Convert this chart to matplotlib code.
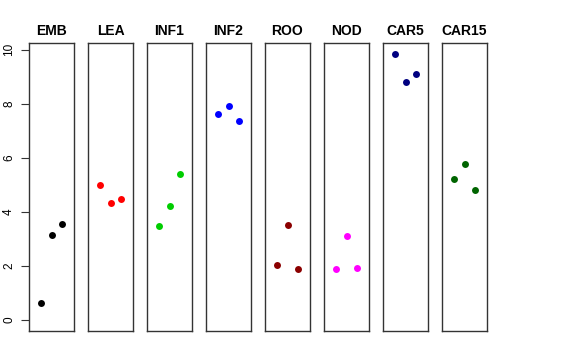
import matplotlib
matplotlib.use("Agg")
import matplotlib.pyplot as plt

plt.rcParams["font.family"] = ["Liberation Sans", "DejaVu Sans"]

# stage names, colours, values (3 replicates each)
stages = ["EMB", "LEA", "INF1", "INF2", "ROO", "NOD", "CAR5", "CAR15"]
colours = ["#000000", "#FF0000", "#00CD00", "#0000FF",
           "#8B0000", "#FF00FF", "#000080", "#006400"]
rep_x = [1, 2, 3]
values = {
    "EMB":   [0.64, 3.16, 3.56],
    "LEA":   [4.98, 4.31, 4.47],
    "INF1":  [3.49, 4.22, 5.41],
    "INF2":  [7.62, 7.91, 7.35],
    "ROO":   [2.05, 3.52, 1.89],
    "NOD":   [1.90, 3.10, 1.91],
    "CAR5":  [9.86, 8.79, 9.09],
    "CAR15": [5.21, 5.78, 4.81],
}

W, H = 576, 360
fig = plt.figure(figsize=(W / 100, H / 100), dpi=100)

left0, step, width = 29, 59, 45
top, bottom = 43, 331

for i, (stage, col) in enumerate(zip(stages, colours)):
    x0 = left0 + i * step
    ax = fig.add_axes([x0 / W, 1 - bottom / H, width / W, (bottom - top) / H])
    ax.plot(rep_x, values[stage], "o", color=col, markersize=5,
            markeredgewidth=0)
    ax.set_xlim(-0.16, 4.16)
    ax.set_ylim(-0.41, 10.25)
    ax.set_xticks([])
    ax.set_title(stage, fontsize=10, fontweight="bold", pad=6)
    for s in ax.spines.values():
        s.set_color("#333333")
        s.set_linewidth(1)
    if i == 0:
        ax.set_yticks([0, 2, 4, 6, 8, 10])
        ax.tick_params(axis="y", length=6, labelsize=8.5, color="#333333",
                       pad=4)
        for lab in ax.get_yticklabels():
            lab.set_rotation(90)
            lab.set_va("center")
    else:
        ax.set_yticks([])

fig.savefig("out.png", dpi=100)
